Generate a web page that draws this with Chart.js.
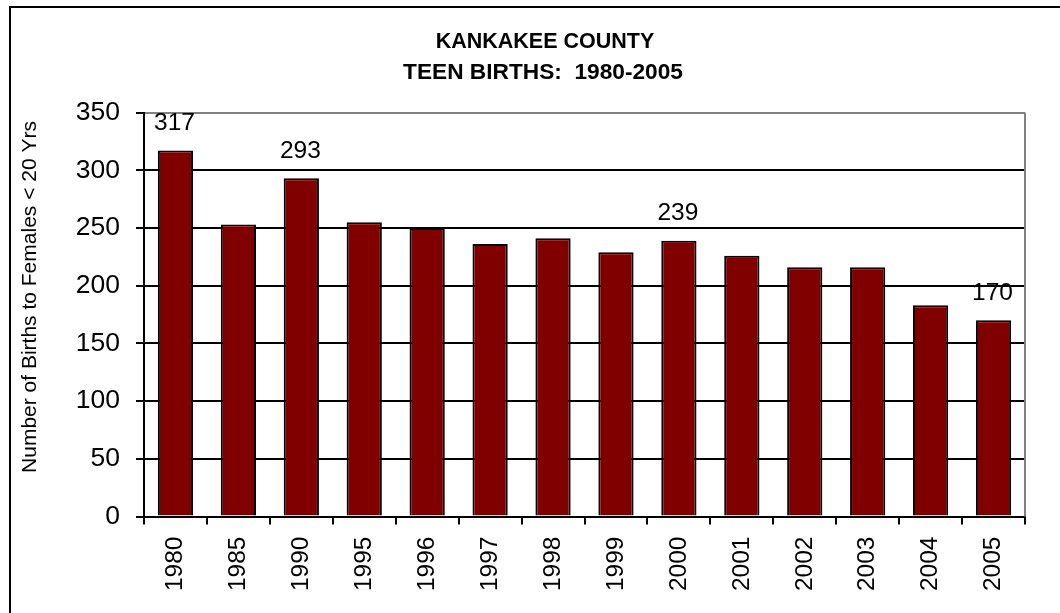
<!DOCTYPE html>
<html>
<head>
<meta charset="utf-8">
<script src="https://cdn.jsdelivr.net/npm/chart.js@4/dist/chart.umd.min.js"></script>
<style>
  html,body{margin:0;padding:0;background:#fff;}
  canvas{display:block;}
</style>
</head>
<body>
<canvas id="teenChart" width="1060" height="613"></canvas>
<script>
// Data
const years = ['1980','1985','1990','1995','1996','1997','1998','1999','2000','2001','2002','2003','2004','2005'];
const births = [317, 253, 293, 255, 250, 236, 241, 229, 239, 226, 216, 216, 183, 170];
const labeledYears = ['1980','1990','2000','2005'];
const yTicks = [0, 50, 100, 150, 200, 250, 300, 350];
const titleLines = ['KANKAKEE COUNTY', 'TEEN BIRTHS:  1980-2005'];
const yTitle = 'Number of Births to Females < 20 Yrs';

const FONT = '"Liberation Sans", Arial, sans-serif';

// Title, axis title, frame and value labels
const extras = {
  id:'extras',
  afterDraw(chart){
    const ctx = chart.ctx, a = chart.chartArea;
    ctx.save();
    // outer frame (only top & left visible)
    ctx.strokeStyle = '#000';
    ctx.lineWidth = 2;
    ctx.beginPath();
    ctx.moveTo(10, 613); ctx.lineTo(10, 7); ctx.lineTo(1060, 7);
    ctx.stroke();
    // right edge of plot
    ctx.strokeStyle = '#808080';
    ctx.beginPath();
    ctx.moveTo(a.right, a.top); ctx.lineTo(a.right, a.bottom);
    ctx.stroke();

    ctx.fillStyle = '#000';
    ctx.textAlign = 'center';
    ctx.textBaseline = 'middle';
    ctx.font = 'bold 21.5px ' + FONT;
    ctx.fillText(titleLines[0], 545, 42);
    ctx.font = 'bold 22.7px ' + FONT;
    ctx.fillText(titleLines[1], 543, 72.5);

    ctx.save();
    ctx.translate(30, 297);
    ctx.rotate(-Math.PI/2);
    ctx.font = '21px ' + FONT;
    ctx.fillText(yTitle, 0, 0);
    ctx.restore();

    ctx.font = '24.5px ' + FONT;
    const meta = chart.getDatasetMeta(0);
    meta.data.forEach((bar, i)=>{
      if(labeledYears.includes(years[i])){
        ctx.fillText(String(births[i]), bar.x - 1, bar.y - 27.5);
      }
    });
    ctx.restore();
  }
};

new Chart(document.getElementById('teenChart').getContext('2d'), {
  type:'bar',
  data:{
    labels: years,
    datasets:[{
      data: births,
      backgroundColor:'#800000',
      borderColor:'#000',
      borderWidth:2,
      barPercentage:0.56,
      categoryPercentage:1
    }]
  },
  options:{
    responsive:false,
    animation:false,
    layout:{ padding:{ top:112.5, right:35, left:10, bottom:0 } },
    plugins:{ legend:{display:false}, tooltip:{enabled:false} },
    scales:{
      x:{
        afterFit(s){ s.height = 96.5; },
        grid:{ offset:true, drawOnChartArea:false, color:'#000', lineWidth:2, tickLength:8 },
        border:{ color:'#000', width:2 },
        ticks:{ color:'#000', minRotation:90, maxRotation:90, padding:12, font:{ family:FONT, size:24.5 } }
      },
      y:{
        min:0, max:350,
        afterFit(s){ s.width = 134; },
        afterBuildTicks(s){ s.ticks = yTicks.map(v=>({value:v})); },
        grid:{
          color: c => c.tick && c.tick.value === 350 ? '#808080' : '#000',
          tickColor:'#000',
          lineWidth:2,
          tickLength:8
        },
        border:{ color:'#000', width:2 },
        ticks:{ color:'#000', padding:16, font:{ family:FONT, size:26.5 } }
      }
    }
  },
  plugins:[extras]
});
</script>
</body>
</html>
